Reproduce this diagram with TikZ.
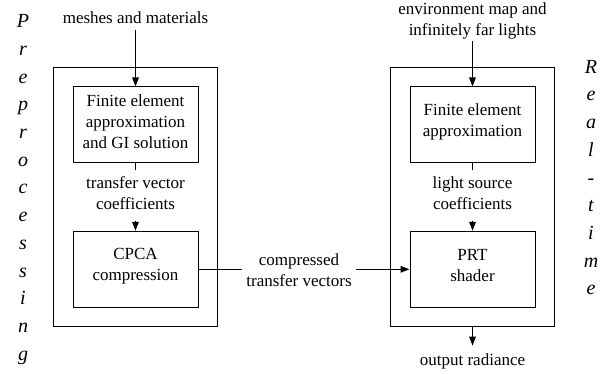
\documentclass[tikz,border=0pt]{standalone}
\usepackage{fontspec}
\setmainfont{Liberation Serif}
\usetikzlibrary{arrows.meta,calc}
\begin{document}
\begin{tikzpicture}[x=1pt,y=-1pt,
  txt/.style={font=\fontsize{17}{21}\selectfont},
  lbl/.style={align=center,inner sep=0pt,txt},
  box/.style={draw,line width=1pt,minimum width=125pt,minimum height=76pt,inner sep=0pt},
  boxtext/.style={lbl,yshift=3.5pt},
  outer/.style={draw,line width=1pt,minimum width=163.5pt,minimum height=258.7pt,inner sep=0pt},
  vert/.style={align=center,inner sep=0pt,anchor=north,font=\fontsize{20}{27.7}\selectfont\itshape},
  arr/.style={-{Triangle[length=9pt,width=6.5pt]},line width=1.4pt},
  ln/.style={line width=1.4pt}]
\useasboundingbox (0,0) rectangle (615,374);

\node[outer] (outL) at (135.3,197.35) {};
\node[outer] (outR) at (472.5,197.35) {};

\node[box,label={[boxtext]center:{Finite element\\approximation\\and GI solution}}] (L1) at (135.5,125) {};
\node[box,label={[boxtext]center:{CPCA\\compression}}] (L2) at (135.5,269.3) {};
\node[box,label={[boxtext]center:{Finite element\\approximation}}] (R1) at (472.5,125) {};
\node[box,label={[boxtext]center:{PRT\\shader}}] (R2) at (472.5,269.3) {};

\node[lbl] (mm) at (135.5,18) {meshes and materials};
\node[lbl] (env) at (472.5,21) {environment map and\\infinitely far lights};
\node[lbl] (tv) at (135.5,193) {transfer vector\\coefficients};
\node[lbl] (ls) at (472.5,193) {light source\\coefficients};
\node[lbl,inner sep=4pt] (cv) at (299,270) {compressed\\transfer vectors};
\node[lbl] (out) at (472.5,361.7) {output radiance};

\node[vert] (pre) at (23,14.5) {P\\r\\e\\p\\r\\o\\c\\e\\s\\s\\i\\n\\g};
\node[vert] (rt) at (591,60) {R\\e\\a\\l\\-\\t\\i\\m\\e};

\draw[arr] ($(mm.south)+(0,6)$) -- (L1.north);
\draw[arr] ($(env.south)+(0,2)$) -- (R1.north);
\draw[ln] (L1.south) -- ($(L1.south)+(0,7)$);
\draw[ln] (R1.south) -- ($(R1.south)+(0,7)$);
\draw[arr] ($(L2.north)+(0,-9.5)$) -- (L2.north);
\draw[arr] ($(R2.north)+(0,-9.5)$) -- (R2.north);
\draw[ln] (L2.east) -- (L2.east -| cv.west);
\draw[arr] (R2.west -| cv.east) -- (R2.west);
\draw[arr] (outR.south) -- ++(0,18.5);
\end{tikzpicture}
\end{document}
